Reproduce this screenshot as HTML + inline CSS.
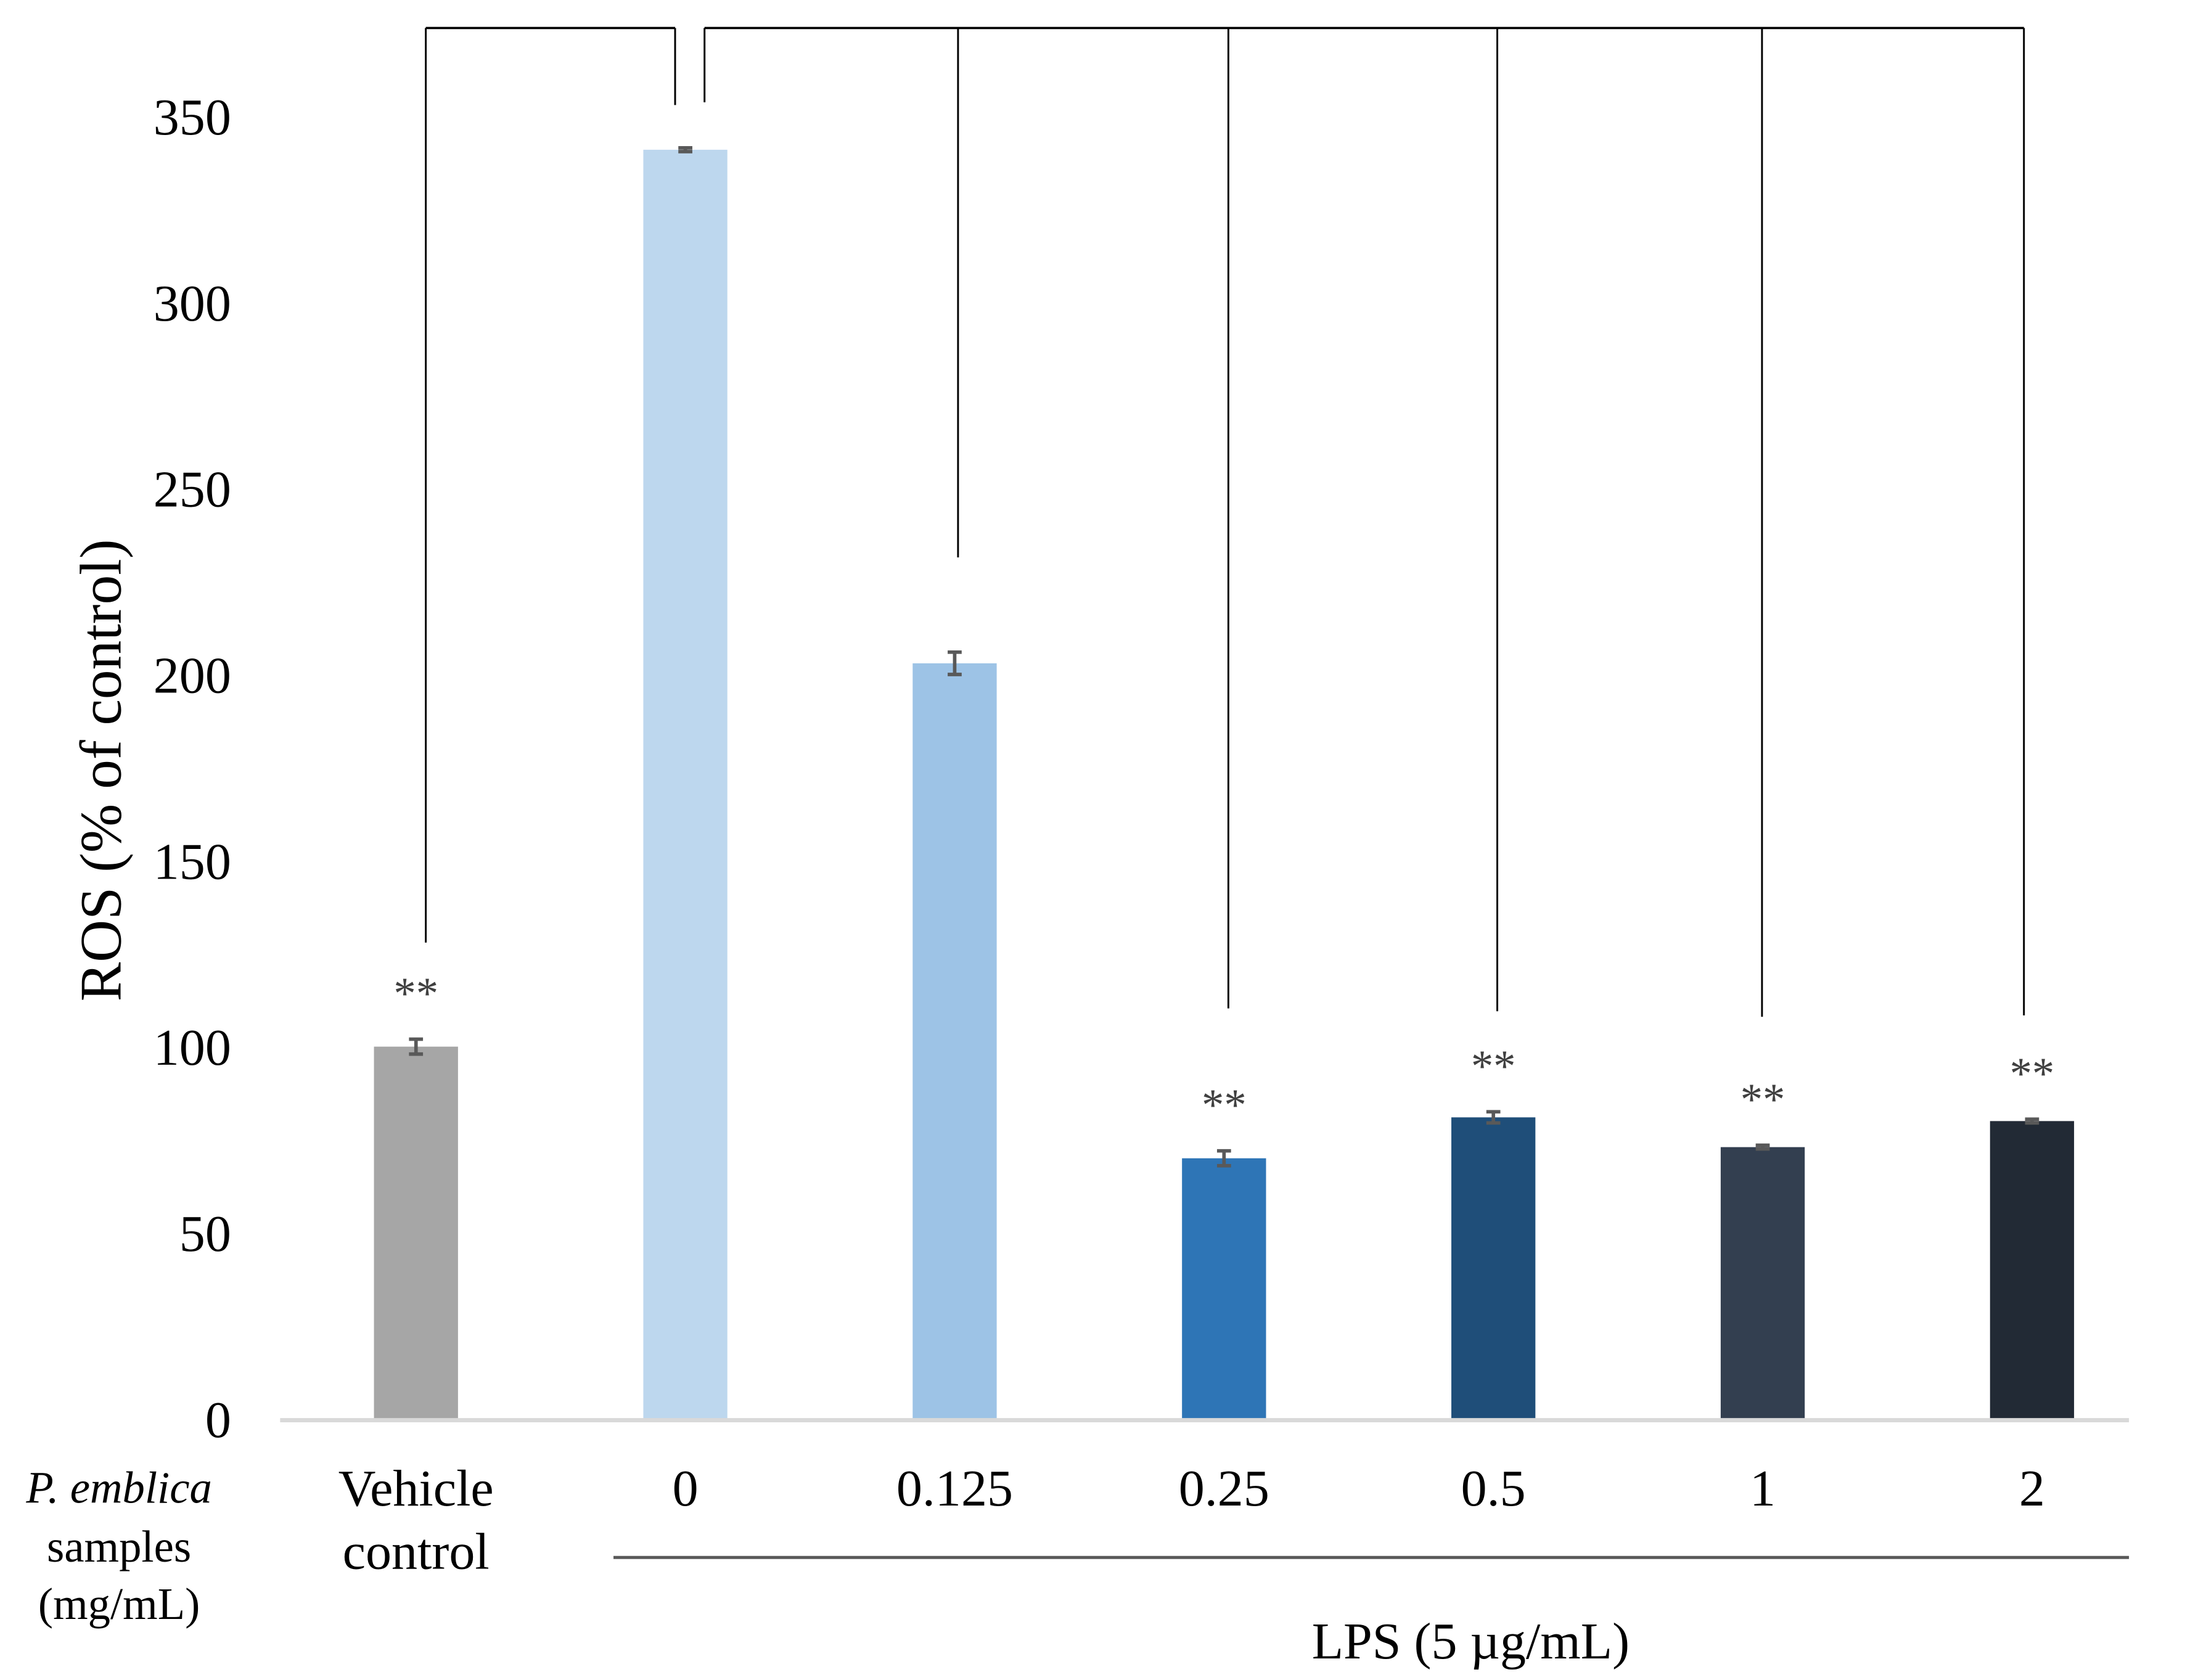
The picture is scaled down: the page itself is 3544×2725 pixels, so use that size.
<!DOCTYPE html>
<html><head><meta charset="utf-8"><style>
html,body{margin:0;padding:0;background:#fff;width:3544px;height:2725px;overflow:hidden}
svg{display:block}
text{font-family:"Liberation Serif",serif}
</style></head><body>
<svg id="chart" width="3544" height="2725" viewBox="0 0 1560 1199.5" preserveAspectRatio="none" xmlns="http://www.w3.org/2000/svg">
<rect width="1560" height="1199.5" fill="#fff"/>
</svg>
<script>
const categories = ["Vehicle control","0","0.125","0.25","0.5","1","2"];
const values = [100, 341, 203, 70, 81, 73, 80];
const errors = [2, 0.5, 3, 2, 1.5, 0.5, 0.5];
const colors = ["#a6a6a6","#bdd7ee","#9dc3e6","#2e75b6","#1f4e79","#333f50","#222a35"];
const stars = ["**","","","**","**","**","**"];
const yTicks = [0,50,100,150,200,250,300,350];
const bracketTops = [673, 75, 398, 720, 722, 726, 725];

const NS="http://www.w3.org/2000/svg";
const svg=document.getElementById('chart');
function el(tag,attrs,parent,txt){const e=document.createElementNS(NS,tag);for(const k in attrs)e.setAttribute(k,attrs[k]);if(txt!==undefined)e.textContent=txt;(parent||svg).appendChild(e);return e;}
const y0=1013, yTop=83;
function y(v){return y0-(v/350)*(y0-yTop);}
function x(i){return 297+i*192.3;}
const bw=60;

yTicks.forEach(t=>{
  const e=el('text',{x:165,y:y(t)+13,'text-anchor':'end','font-size':37,fill:'#000'},null,String(t));
  
  
});
const yt=el('text',{x:0,y:0,transform:'translate(86,550) rotate(-90)','text-anchor':'middle','font-size':42,fill:'#000'},null,'ROS (% of control)');



values.forEach((v,i)=>{
  const cx=x(i);
  const b=el('rect',{x:cx-bw/2,y:y(v),width:bw,height:y0-y(v),fill:colors[i]});
  
  
  const eh=y(v-errors[i]), et=y(v+errors[i]);
  const g=el('path',{d:`M${cx} ${et}V${eh}M${cx-5} ${et}H${cx+5}M${cx-5} ${eh}H${cx+5}`,stroke:'#595959','stroke-width':2.5,fill:'none'});
  
  
  if(stars[i]){
    const s=el('text',{x:cx,y:y(v+errors[i])-22,'text-anchor':'middle','font-size':32,fill:'#404040'},null,stars[i]);
    
    
  }
});

const ax=el('line',{x1:200,y1:y0+1,x2:1520,y2:y0+1,stroke:'#d9d9d9','stroke-width':3});



const bxs=[304,482,684,877,1069,1258,1445];
const br=el('path',{d:`M304 20H482M503 20H1445`,stroke:'#000','stroke-width':1.6,fill:'none'});


bxs.forEach((bx,i)=>{
  const l=el('line',{x1:bx,y1:20,x2:bx,y2:bracketTops[i],stroke:'#000','stroke-width':1.3});
  
  
});
const l2=el('line',{x1:503,y1:20,x2:503,y2:73,stroke:'#000','stroke-width':1.3});



categories.forEach((c,i)=>{
  if(i===0){
    const a=el('text',{x:x(i),y:1075,'text-anchor':'middle','font-size':37},null,'Vehicle');
    
    
    const b=el('text',{x:x(i),y:1120,'text-anchor':'middle','font-size':37},null,'control');
    
    
  } else {
    const a=el('text',{x:x(i),y:1075,'text-anchor':'middle','font-size':37},null,c);
    
    
  }
});
const p1=el('text',{x:85,y:1073,'text-anchor':'middle','font-size':32,'font-style':'italic'},null,'P. emblica');


const p2=el('text',{x:85,y:1115,'text-anchor':'middle','font-size':32},null,'samples');


const p3=el('text',{x:85,y:1156,'text-anchor':'middle','font-size':32},null,'(mg/mL)');


const ll=el('line',{x1:438,y1:1112,x2:1520,y2:1112,stroke:'#595959','stroke-width':2.2});


const lt=el('text',{x:1050,y:1184,'text-anchor':'middle','font-size':37},null,'LPS (5 µg/mL)');


</script>
</body></html>
